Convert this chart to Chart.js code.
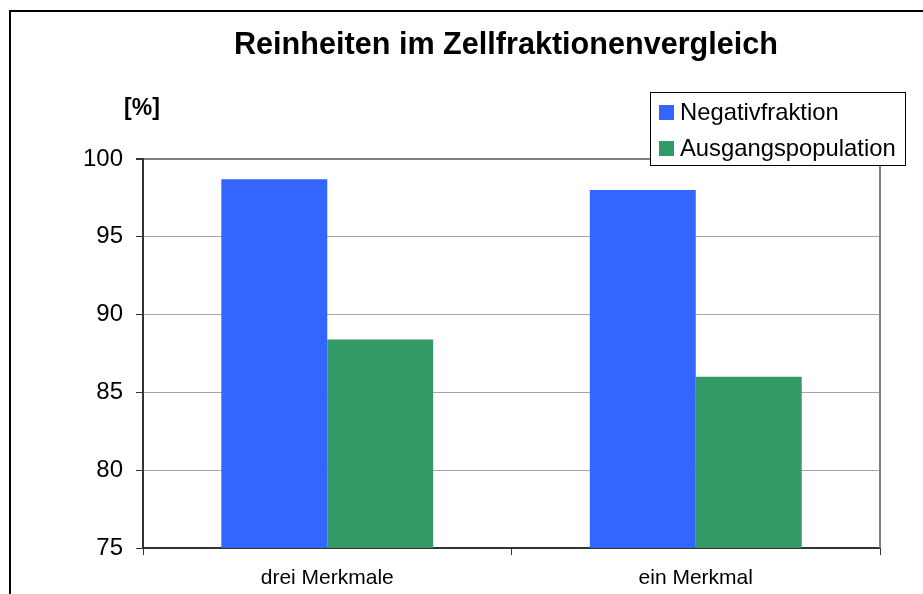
<!DOCTYPE html>
<html lang="de">
<head>
  <meta charset="UTF-8">
  <title>Reinheiten im Zellfraktionenvergleich</title>
  <script src="https://cdn.jsdelivr.net/npm/chart.js"></script>
  <style>
    body {
      margin: 0;
      padding: 0;
      background: #fff;
    }
    #chart {
      display: block;
    }
  </style>
</head>
<body>
  <canvas id="chart" width="923" height="594"></canvas>

  <script>
    // chart data
    const categories = ['drei Merkmale', 'ein Merkmal'];
    const negativfraktion = [98.7, 98.0];
    const ausgangspopulation = [88.4, 86.0];
    const seriesNames = ['Negativfraktion', 'Ausgangspopulation'];
    const yTicks = [75, 80, 85, 90, 95, 100];

    const titleText = 'Reinheiten im Zellfraktionenvergleich';
    const unitText = '[%]';
    const FONT = '"Liberation Sans", Arial, sans-serif';

    // draws title, unit label, outer frame, plot border and legend box
    const decorations = {
      id: 'decorations',
      afterDraw(chart) {
        const ctx = chart.ctx;
        const area = chart.chartArea;
        ctx.save();

        // right border of plot area
        ctx.strokeStyle = '#808080';
        ctx.lineWidth = 2;
        ctx.beginPath();
        ctx.moveTo(area.right, area.top);
        ctx.lineTo(area.right, area.bottom);
        ctx.stroke();

        // outer frame (runs off the right and bottom edge)
        ctx.strokeStyle = '#000';
        ctx.lineWidth = 2;
        ctx.strokeRect(10, 11, 940, 620);

        // title
        ctx.fillStyle = '#000';
        ctx.font = 'bold 30.6px ' + FONT;
        ctx.textAlign = 'center';
        ctx.textBaseline = 'middle';
        ctx.fillText(titleText, 506, 46);

        // unit label
        ctx.font = 'bold 23px ' + FONT;
        ctx.fillText(unitText, 142, 109);

        // legend
        const lx = 650, ly = 92, lw = 255, lh = 73;
        ctx.fillStyle = '#fff';
        ctx.fillRect(lx, ly, lw, lh);
        ctx.strokeStyle = '#000';
        ctx.lineWidth = 1;
        ctx.strokeRect(lx + 0.5, ly + 0.5, lw, lh);

        ctx.font = '23.8px ' + FONT;
        ctx.textAlign = 'left';
        chart.data.datasets.forEach((ds, i) => {
          const cy = ly + 20 + i * 36;
          ctx.fillStyle = ds.backgroundColor;
          ctx.fillRect(lx + 9, cy - 7, 15, 15);
          ctx.fillStyle = '#000';
          ctx.fillText(ds.label, lx + 30, cy + 1);
        });

        ctx.restore();
      }
    };

    const ctx = document.getElementById('chart').getContext('2d');
    new Chart(ctx, {
      type: 'bar',
      data: {
        labels: categories,
        datasets: [
          {
            label: seriesNames[0],
            data: negativfraktion,
            backgroundColor: '#3366FF',
            borderWidth: 0
          },
          {
            label: seriesNames[1],
            data: ausgangspopulation,
            backgroundColor: '#339966',
            borderWidth: 0
          }
        ]
      },
      options: {
        responsive: false,
        animation: false,
        devicePixelRatio: 1,
        layout: {
          padding: { left: 0, right: 43, top: 159, bottom: 0 }
        },
        datasets: {
          bar: {
            categoryPercentage: 0.575,
            barPercentage: 1.0
          }
        },
        plugins: {
          legend: { display: false },
          title: { display: false },
          tooltip: { enabled: false }
        },
        scales: {
          x: {
            afterFit: (s) => { s.height = 46; },
            grid: {
              display: true,
              drawOnChartArea: false,
              offset: true,
              tickLength: 7,
              tickColor: '#333',
              tickWidth: 1
            },
            border: { color: '#333', width: 2 },
            ticks: {
              color: '#000',
              font: { family: FONT, size: 21 },
              padding: 11
            }
          },
          y: {
            min: 75,
            max: 100,
            afterFit: (s) => { s.width = 143; },
            afterBuildTicks: (s) => {
              s.ticks = yTicks.map(v => ({ value: v }));
            },
            grid: {
              color: (c) => (c.tick && c.tick.value === 100 ? '#808080' : '#a6a6a6'),
              lineWidth: (c) => (c.tick && c.tick.value === 100 ? 2 : 1),
              tickLength: 7,
              tickColor: '#333'
            },
            border: { color: '#333', width: 2 },
            ticks: {
              color: '#000',
              font: { family: FONT, size: 24 },
              padding: 13
            }
          }
        }
      },
      plugins: [decorations]
    });
  </script>
</body>
</html>
